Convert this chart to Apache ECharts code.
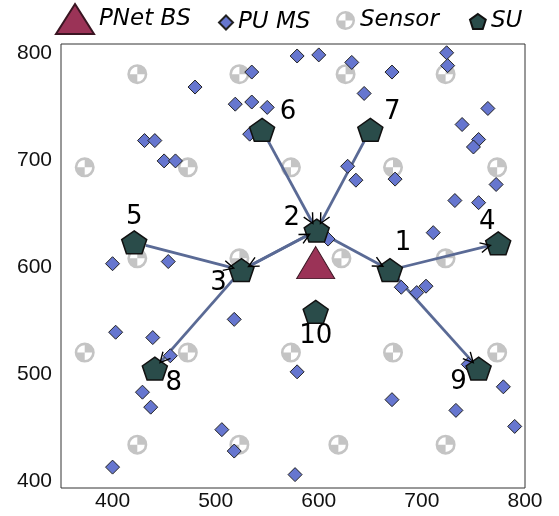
<!DOCTYPE html>
<html><head><meta charset="utf-8">
<script src="https://cdn.jsdelivr.net/npm/echarts@6/dist/echarts.min.js"></script>
<style>html,body{margin:0;padding:0;background:#fff}#c{width:559px;height:516px}</style>
</head><body><div id="c"></div>
<script>
// ---- data ----
const xTicks = [400, 500, 600, 700, 800];
const yTicks = [400, 500, 600, 700, 800];

const bsPos = [[597, 604]];

const suIds = [1, 2, 3, 4, 5, 6, 7, 8, 9, 10];
const suPos = [[669, 597], [598, 634], [525, 597], [774, 622], [421, 623],
               [545, 728], [650, 728], [441, 505], [755, 505], [597, 558]];

const sensorPos = [
  [424, 780], [523, 780], [626, 780], [723, 780],
  [373, 693], [473, 693], [573, 693], [672, 693], [773, 693],
  [424, 608], [523, 608], [622, 608], [723, 608],
  [373, 520], [473, 520], [573, 520], [672, 520], [773, 520],
  [424, 434], [523, 434], [619, 434], [723, 434]
];

const puPos = [
  [535, 782], [480, 768], [519, 752], [535, 754], [550, 749], [533, 724],
  [431, 718], [441, 718], [450, 699], [461, 699],
  [579, 797], [600, 798], [632, 791], [671, 782], [724, 800], [725, 788],
  [644, 762], [764, 748], [739, 733], [755, 719], [750, 712], [628, 694],
  [636, 681], [674, 682], [772, 677], [732, 662], [755, 660], [711, 632], [609, 626],
  [400, 603], [454, 605], [518, 551], [403, 539], [439, 534], [456, 517],
  [429, 483], [437, 469], [506, 448], [518, 428], [400, 413], [577, 406],
  [680, 581], [695, 576], [704, 582], [579, 502], [745, 509], [779, 488],
  [671, 476], [733, 466], [790, 451]
];

// directed links between SUs (by SU id)
const links = [[2, 1], [2, 3], [3, 2], [6, 2], [7, 2], [5, 3], [3, 8], [1, 4], [1, 9]];

// ---- styling helpers ----
const suLabelOffset = [[13, -27], [-25, -12], [-23, 13], [-11, -21], [0, -25],
                       [26, -18], [22, -18], [19, 15], [-20, 14], [0, 24]];

const pentPath = 'path://M50,0L97.55,34.55L79.39,90.45L20.61,90.45L2.45,34.55Z';
const sensorPath = 'path://M0,50A50,50 0 1,1 100,50A50,50 0 1,1 0,50Z' +
  'M13,50A37,37 0 1,0 87,50A37,37 0 1,0 13,50Z' +
  'M50,50L50,13A37,37 0 0,1 87,50Z' +
  'M50,50L50,87A37,37 0 0,1 13,50Z';

const suById = {};
suIds.forEach((id, i) => { suById[id] = suPos[i]; });
const linkData = links.map(l => [suById[l[0]][0], suById[l[0]][1], suById[l[1]][0], suById[l[1]][1]]);

function geom(api) {
  const a = api.coord([api.value(0), api.value(1)]);
  const b = api.coord([api.value(2), api.value(3)]);
  const dx = b[0] - a[0], dy = b[1] - a[1];
  const L = Math.hypot(dx, dy);
  const ux = dx / L, uy = dy / L;
  return { ux, uy, sx: a[0] + ux * 12, sy: a[1] + uy * 12, ex: b[0] - ux * 8, ey: b[1] - uy * 8 };
}

const legendText = { fontFamily: 'DejaVu Sans', fontStyle: 'italic', fontSize: 23, color: '#000' };
function mkLegend(name, icon, left, top, w, h) {
  return { data: [{ name: name, icon: icon }], left: left, top: top, itemWidth: w, itemHeight: h,
           padding: 0, selectedMode: false, textStyle: legendText, itemGap: 0 };
}

const chart = echarts.init(document.getElementById('c'), null, { renderer: 'canvas' });
chart.setOption({
  animation: false,
  backgroundColor: '#fff',
  legend: [
    mkLegend('PNet BS', 'triangle', 55, 3, 38, 30),
    mkLegend('PU MS', 'diamond', 218, 11, 14, 14),
    mkLegend('Sensor', sensorPath, 336, 9, 19, 19),
    mkLegend('SU', pentPath, 469, 10, 16, 15)
  ],
  grid: { left: 61, right: 34, top: 44, bottom: 28, show: true, borderColor: '#333', borderWidth: 1 },
  xAxis: {
    type: 'value', min: 350, max: 800,
    splitLine: { show: false }, axisTick: { show: false },
    axisLine: { show: false },
    axisLabel: { customValues: xTicks, fontFamily: 'Liberation Sans', fontSize: 21, color: '#111', margin: 3 }
  },
  yAxis: {
    type: 'value', min: 393.5, max: 808.2,
    splitLine: { show: false }, axisTick: { show: false },
    axisLine: { show: false },
    axisLabel: { customValues: yTicks, fontFamily: 'Liberation Sans', fontSize: 21, color: '#111', margin: 9 }
  },
  series: [
    {
      name: 'Sensor', type: 'scatter', z: 1, data: sensorPos,
      symbol: sensorPath, symbolSize: 20,
      itemStyle: { color: '#c4c4c4', borderWidth: 0, opacity: 1 }
    },
    {
      name: 'links', type: 'custom', z: 2, data: linkData,
      encode: { x: [0, 2], y: [1, 3] },
      renderItem: function (params, api) {
        const g = geom(api);
        return { type: 'line', shape: { x1: g.sx, y1: g.sy, x2: g.ex, y2: g.ey },
                 style: { stroke: '#5a6a95', lineWidth: 2.8 } };
      }
    },
    {
      name: 'PU MS', type: 'scatter', z: 3, data: puPos,
      symbol: 'diamond', symbolSize: 14,
      itemStyle: { color: '#6676cf', borderColor: '#222', borderWidth: 1, opacity: 1 }
    },
    {
      name: 'PNet BS', type: 'scatter', z: 4, data: bsPos,
      symbol: 'triangle', symbolSize: [38, 32],
      itemStyle: { color: '#9b3357', borderColor: '#3a1522', borderWidth: 1, opacity: 1 }
    },
    {
      name: 'SU', type: 'scatter', z: 4,
      data: suPos.map((p, i) => ({ value: p, label: { offset: suLabelOffset[i] } })),
      symbol: pentPath, symbolSize: [25, 24], symbolKeepAspect: true,
      itemStyle: { color: '#2a4c4a', borderColor: '#111', borderWidth: 1.5, opacity: 1 },
      label: {
        show: true, position: 'inside',
        formatter: p => String(suIds[p.dataIndex]),
        fontFamily: 'DejaVu Sans', fontSize: 26, color: '#000'
      }
    },
    {
      name: 'heads', type: 'custom', z: 6, data: linkData,
      encode: { x: [0, 2], y: [1, 3] },
      renderItem: function (params, api) {
        const g = geom(api);
        const bx = g.ex - g.ux * 10, by = g.ey - g.uy * 10;
        const px = -g.uy * 5, py = g.ux * 5;
        return { type: 'polyline',
                 shape: { points: [[bx + px, by + py], [g.ex, g.ey], [bx - px, by - py]] },
                 style: { stroke: '#000', lineWidth: 1.4, fill: null } };
      }
    }
  ]
});
</script>
</body></html>
